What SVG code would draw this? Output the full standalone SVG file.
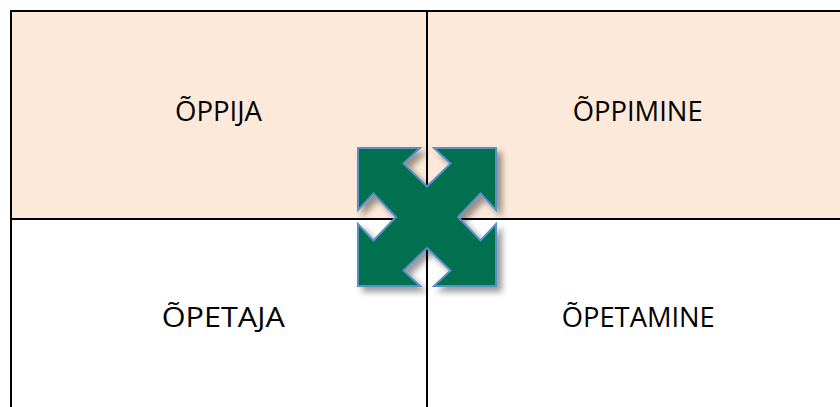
<svg xmlns="http://www.w3.org/2000/svg" width="840" height="407" viewBox="0 0 840 407">
  <defs>
    <style>
      .cell-top { fill: #FDE9D9; }
      .cell-bot { fill: #FFFFFF; }
      .grid { stroke: #000000; stroke-width: 2; fill: none; }
      .lbl { font-family: "Open Sans", "Liberation Sans", sans-serif; font-size: 27px; fill: #000000; text-anchor: middle; }
      .arrow { fill: #00704F; stroke: #5B8FC7; stroke-width: 2; stroke-linejoin: miter; }
    </style>
    <filter id="shadow" x="-20%" y="-20%" width="150%" height="150%">
      <feDropShadow dx="5" dy="5" stdDeviation="3" flood-color="#000000" flood-opacity="0.4"/>
    </filter>
  </defs>
  <rect width="840" height="407" fill="#FFFFFF"/>
  <g id="cell-oppija">
    <rect class="cell-top" x="11" y="11" width="416" height="208"/>
    <text class="lbl" x="218.5" y="120.5" textLength="87" lengthAdjust="spacingAndGlyphs">ÕPPIJA</text>
  </g>
  <g id="cell-oppimine">
    <rect class="cell-top" x="427" y="11" width="413" height="208"/>
    <text class="lbl" x="637.7" y="120.5" textLength="130" lengthAdjust="spacingAndGlyphs">ÕPPIMINE</text>
  </g>
  <g id="cell-opetaja">
    <rect class="cell-bot" x="11" y="219" width="416" height="188"/>
    <text class="lbl" x="223.3" y="327" textLength="123" lengthAdjust="spacingAndGlyphs">ÕPETAJA</text>
  </g>
  <g id="cell-opetamine">
    <rect class="cell-bot" x="427" y="219" width="413" height="188"/>
    <text class="lbl" x="638.3" y="327" textLength="153" lengthAdjust="spacingAndGlyphs">ÕPETAMINE</text>
  </g>
  <g id="grid-lines" class="grid">
    <path d="M11,408 V11 H841"/>
    <path d="M11,219 H841"/>
    <path d="M427,11 V408"/>
  </g>
  <g id="connectors"></g>
  <g id="quad-arrow" filter="url(#shadow)">
    <path class="arrow" d="M358,148 H420 L403.5,163.5 L427,186.5 L450.5,163.5 L434,148 H496 V210 L480.5,193.5 L458,217 L480.5,240.5 L496,224 V286 H434 L450.5,270.5 L427,248 L403.5,270.5 L420,286 H358 V224 L373.5,240.5 L396,217 L373.5,193.5 L358,210 Z"/>
  </g>
</svg>
